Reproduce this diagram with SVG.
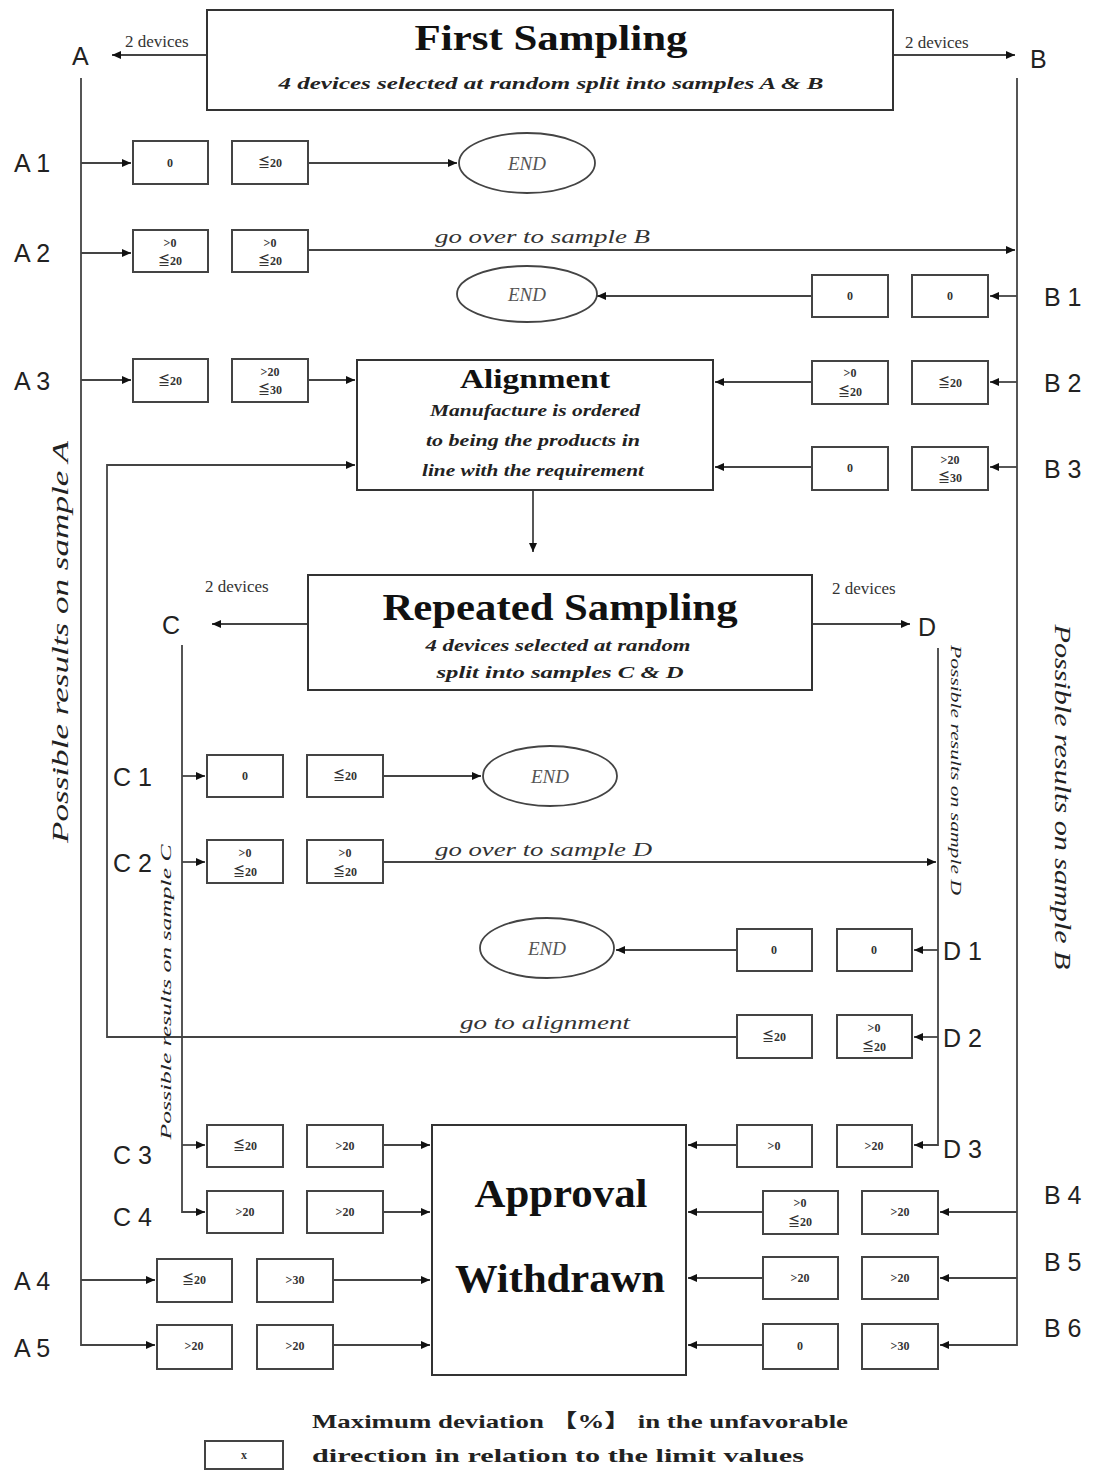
<svg xmlns="http://www.w3.org/2000/svg" width="1097" height="1472" viewBox="0 0 1097 1472">
<style>
.bg{fill:#fff}
.frame{fill:#fff;stroke:#333;stroke-width:2}
.bx{fill:#fff;stroke:#444;stroke-width:2}
.end{fill:#fff;stroke:#444;stroke-width:1.8}
.ln{fill:none;stroke:#444;stroke-width:1.8}
.v{font-family:"Liberation Serif","DejaVu Serif","Noto Sans CJK JP",serif;font-size:12px;font-weight:bold;fill:#333;text-anchor:middle}
.lab{font-family:"Liberation Sans","DejaVu Sans",sans-serif;font-size:25px;fill:#222}
.ttl{font-family:"Liberation Serif",serif;font-weight:bold;fill:#111;text-anchor:middle}
.sub{font-family:"Liberation Serif",serif;font-style:italic;font-weight:bold;font-size:16px;fill:#222;text-anchor:middle}
.it{font-family:"Liberation Serif",serif;font-style:italic;font-size:19px;fill:#333}
.dev{font-family:"Liberation Serif",serif;font-size:17px;fill:#333}
.endt{font-family:"Liberation Serif",serif;font-style:italic;font-size:19px;fill:#555;text-anchor:middle}
.vt{font-family:"Liberation Serif",serif;font-style:italic;font-size:23px;fill:#222;text-anchor:middle}
.vts{font-family:"Liberation Serif",serif;font-style:italic;font-size:15px;fill:#222;text-anchor:middle}
.leg{font-family:"Liberation Serif","Noto Sans CJK JP",serif;font-weight:bold;font-size:19px;fill:#222}
</style>
<defs>
<marker id="ah" markerWidth="9" markerHeight="8" refX="9" refY="4" orient="auto" markerUnits="userSpaceOnUse">
<path d="M0,0 L9,4 L0,8 z" fill="#111"/>
</marker>
</defs>
<rect class="bg" x="0" y="0" width="1097" height="1472"/>

<g id="connectors" class="ln" marker-end="url(#ah)">
<path d="M207,55 H112"/>
<path d="M893,55 H1015"/>
<path d="M81,78 V1345 H155"/>
<path d="M1017,78 V1345 H940"/>
<path d="M81,163 H131"/>
<path d="M308,163 H457"/>
<path d="M81,253 H131"/>
<path d="M308,250 H1015"/>
<path d="M1017,296 H990"/>
<path d="M812,296 H597"/>
<path d="M81,380 H131"/>
<path d="M308,380 H355"/>
<path d="M1017,382 H990"/>
<path d="M812,382 H715"/>
<path d="M1017,467 H990"/>
<path d="M812,467 H715"/>
<path d="M533,490 V552"/>
<path d="M737,1037 H107 V465 H355"/>
<path d="M938,1037 H914"/>
<path d="M308,624 H212"/>
<path d="M812,624 H910"/>
<path d="M182,645 V1212 H205"/>
<path d="M938,648 V1145 H914"/>
<path d="M182,776 H205"/>
<path d="M383,776 H481"/>
<path d="M182,862 H205"/>
<path d="M383,862 H936"/>
<path d="M938,950 H914"/>
<path d="M737,950 H616"/>
<path d="M182,1145 H205"/>
<path d="M383,1145 H430"/>
<path d="M737,1145 H688"/>
<path d="M383,1212 H430"/>
<path d="M1017,1212 H940"/>
<path d="M763,1212 H688"/>
<path d="M81,1280 H155"/>
<path d="M333,1280 H430"/>
<path d="M1017,1278 H940"/>
<path d="M763,1278 H688"/>
<path d="M333,1345 H430"/>
<path d="M763,1345 H688"/>
</g>

<g id="first-sampling">
<rect class="frame" x="207" y="10" width="686" height="100"/>
<text class="ttl" x="551" y="50" font-size="36" textLength="273" lengthAdjust="spacingAndGlyphs">First Sampling</text>
<text class="sub" x="551" y="89" textLength="545" lengthAdjust="spacingAndGlyphs">4 devices selected at random split into samples A &amp; B</text>
</g>
<g id="split-AB-labels">
<text class="dev" x="125" y="47" font-size="15">2 devices</text>
<text class="dev" x="905" y="48" font-size="15">2 devices</text>
<text class="lab" x="72" y="65" font-size="23">A</text>
<text class="lab" x="1030" y="68" font-size="23">B</text>
</g>

<g id="side-labels">
<text class="vt" transform="translate(68,642) rotate(-90)" textLength="402" lengthAdjust="spacingAndGlyphs">Possible results on sample A</text>
<text class="vt" transform="translate(1055,797) rotate(90)" textLength="345" lengthAdjust="spacingAndGlyphs">Possible results on sample B</text>
<text class="vts" transform="translate(951,770) rotate(90)" textLength="250" lengthAdjust="spacingAndGlyphs">Possible results on sample D</text>
<text class="vts" transform="translate(171,992) rotate(-90)" textLength="295" lengthAdjust="spacingAndGlyphs">Possible results on sample C</text>
</g>

<g id="row-A1">
<text class="lab" x="14" y="172">A 1</text>
<rect class="bx" x="133" y="141" width="75" height="43"/><text class="v" x="170" y="167">0</text>
<rect class="bx" x="232" y="141" width="76" height="43"/><text class="v" x="270" y="167">≦20</text>
</g>
<g id="end-A1">
<ellipse class="end" cx="527" cy="163" rx="68" ry="30"/>
<text class="endt" x="527" y="170">END</text>
</g>

<g id="row-A2">
<text class="lab" x="14" y="262">A 2</text>
<rect class="bx" x="133" y="230" width="75" height="42"/><text class="v" x="170" y="247">&gt;0</text><text class="v" x="170" y="265">≦20</text>
<rect class="bx" x="232" y="230" width="76" height="42"/><text class="v" x="270" y="247">&gt;0</text><text class="v" x="270" y="265">≦20</text>
<text class="it" x="435" y="243" textLength="215" lengthAdjust="spacingAndGlyphs">go over to sample B</text>
</g>

<g id="row-B1">
<text class="lab" x="1044" y="306">B 1</text>
<rect class="bx" x="812" y="275" width="76" height="42"/><text class="v" x="850" y="300">0</text>
<rect class="bx" x="912" y="275" width="76" height="42"/><text class="v" x="950" y="300">0</text>
</g>
<g id="end-B1">
<ellipse class="end" cx="527" cy="294" rx="70" ry="28"/>
<text class="endt" x="527" y="301">END</text>
</g>

<g id="row-A3">
<text class="lab" x="14" y="390">A 3</text>
<rect class="bx" x="133" y="359" width="75" height="43"/><text class="v" x="170" y="385">≦20</text>
<rect class="bx" x="232" y="359" width="76" height="43"/><text class="v" x="270" y="376">&gt;20</text><text class="v" x="270" y="394">≦30</text>
</g>

<g id="row-B2">
<text class="lab" x="1044" y="392">B 2</text>
<rect class="bx" x="812" y="361" width="76" height="43"/><text class="v" x="850" y="377">&gt;0</text><text class="v" x="850" y="396">≦20</text>
<rect class="bx" x="912" y="361" width="76" height="43"/><text class="v" x="950" y="387">≦20</text>
</g>

<g id="row-B3">
<text class="lab" x="1044" y="478">B 3</text>
<rect class="bx" x="812" y="447" width="76" height="43"/><text class="v" x="850" y="472">0</text>
<rect class="bx" x="912" y="447" width="76" height="43"/><text class="v" x="950" y="464">&gt;20</text><text class="v" x="950" y="482">≦30</text>
</g>

<g id="alignment">
<rect class="frame" x="357" y="360" width="356" height="130"/>
<text class="ttl" x="535" y="388" font-size="27" textLength="150" lengthAdjust="spacingAndGlyphs">Alignment</text>
<text class="sub" x="535" y="416" textLength="210" lengthAdjust="spacingAndGlyphs">Manufacture is ordered</text>
<text class="sub" x="533" y="446" textLength="214" lengthAdjust="spacingAndGlyphs">to being the products in</text>
<text class="sub" x="533" y="476" textLength="222" lengthAdjust="spacingAndGlyphs">line with the requirement</text>
</g>

<g id="repeated-sampling">
<rect class="frame" x="308" y="575" width="504" height="115"/>
<text class="ttl" x="560" y="620" font-size="37" textLength="355" lengthAdjust="spacingAndGlyphs">Repeated Sampling</text>
<text class="sub" x="558" y="651" textLength="265" lengthAdjust="spacingAndGlyphs">4 devices selected at random</text>
<text class="sub" x="560" y="678" textLength="247" lengthAdjust="spacingAndGlyphs">split into samples  C  &amp;  D</text>
</g>
<g id="split-CD-labels">
<text class="dev" x="205" y="592">2 devices</text>
<text class="dev" x="832" y="594">2 devices</text>
<text class="lab" x="162" y="634" font-size="23">C</text>
<text class="lab" x="918" y="636" font-size="23">D</text>
</g>

<g id="row-C1">
<text class="lab" x="113" y="786">C 1</text>
<rect class="bx" x="207" y="755" width="76" height="42"/><text class="v" x="245" y="780">0</text>
<rect class="bx" x="307" y="755" width="76" height="42"/><text class="v" x="345" y="780">≦20</text>
</g>
<g id="end-C1">
<ellipse class="end" cx="550" cy="776" rx="67" ry="30"/>
<text class="endt" x="550" y="783">END</text>
</g>

<g id="row-C2">
<text class="lab" x="113" y="872">C 2</text>
<rect class="bx" x="207" y="840" width="76" height="43"/><text class="v" x="245" y="857">&gt;0</text><text class="v" x="245" y="876">≦20</text>
<rect class="bx" x="307" y="840" width="76" height="43"/><text class="v" x="345" y="857">&gt;0</text><text class="v" x="345" y="876">≦20</text>
<text class="it" x="435" y="856" textLength="217" lengthAdjust="spacingAndGlyphs">go over to sample D</text>
</g>

<g id="row-D1">
<text class="lab" x="943" y="960">D 1</text>
<rect class="bx" x="737" y="929" width="75" height="42"/><text class="v" x="774" y="954">0</text>
<rect class="bx" x="837" y="929" width="75" height="42"/><text class="v" x="874" y="954">0</text>
</g>
<g id="end-D1">
<ellipse class="end" cx="547" cy="948" rx="67" ry="30"/>
<text class="endt" x="547" y="955">END</text>
</g>

<g id="row-D2">
<text class="lab" x="943" y="1047">D 2</text>
<rect class="bx" x="737" y="1015" width="75" height="43"/><text class="v" x="774" y="1041">≦20</text>
<rect class="bx" x="837" y="1015" width="75" height="43"/><text class="v" x="874" y="1032">&gt;0</text><text class="v" x="874" y="1051">≦20</text>
<text class="it" x="460" y="1029" textLength="170" lengthAdjust="spacingAndGlyphs">go to alignment</text>
</g>

<g id="row-C3">
<text class="lab" x="113" y="1164">C 3</text>
<rect class="bx" x="207" y="1125" width="76" height="42"/><text class="v" x="245" y="1150">≦20</text>
<rect class="bx" x="307" y="1125" width="76" height="42"/><text class="v" x="345" y="1150">&gt;20</text>
</g>

<g id="row-D3">
<text class="lab" x="943" y="1158">D 3</text>
<rect class="bx" x="737" y="1125" width="75" height="42"/><text class="v" x="774" y="1150">&gt;0</text>
<rect class="bx" x="837" y="1125" width="75" height="42"/><text class="v" x="874" y="1150">&gt;20</text>
</g>

<g id="approval-withdrawn">
<rect class="frame" x="432" y="1125" width="254" height="250"/>
<text class="ttl" x="561" y="1207" font-size="40" textLength="173" lengthAdjust="spacingAndGlyphs">Approval</text>
<text class="ttl" x="560" y="1292" font-size="40" textLength="210" lengthAdjust="spacingAndGlyphs">Withdrawn</text>
</g>

<g id="row-C4">
<text class="lab" x="113" y="1226">C 4</text>
<rect class="bx" x="207" y="1191" width="76" height="42"/><text class="v" x="245" y="1216">&gt;20</text>
<rect class="bx" x="307" y="1191" width="76" height="42"/><text class="v" x="345" y="1216">&gt;20</text>
</g>

<g id="row-B4">
<text class="lab" x="1044" y="1204">B 4</text>
<rect class="bx" x="763" y="1191" width="75" height="43"/><text class="v" x="800" y="1207">&gt;0</text><text class="v" x="800" y="1226">≦20</text>
<rect class="bx" x="862" y="1191" width="76" height="43"/><text class="v" x="900" y="1216">&gt;20</text>
</g>

<g id="row-A4">
<text class="lab" x="14" y="1290">A 4</text>
<rect class="bx" x="157" y="1259" width="75" height="43"/><text class="v" x="194" y="1284">≦20</text>
<rect class="bx" x="257" y="1259" width="76" height="43"/><text class="v" x="295" y="1284">&gt;30</text>
</g>

<g id="row-B5">
<text class="lab" x="1044" y="1271">B 5</text>
<rect class="bx" x="763" y="1257" width="75" height="42"/><text class="v" x="800" y="1282">&gt;20</text>
<rect class="bx" x="862" y="1257" width="76" height="42"/><text class="v" x="900" y="1282">&gt;20</text>
</g>

<g id="row-A5">
<text class="lab" x="14" y="1357">A 5</text>
<rect class="bx" x="157" y="1325" width="75" height="44"/><text class="v" x="194" y="1350">&gt;20</text>
<rect class="bx" x="257" y="1325" width="76" height="44"/><text class="v" x="295" y="1350">&gt;20</text>
</g>

<g id="row-B6">
<text class="lab" x="1044" y="1337">B 6</text>
<rect class="bx" x="763" y="1324" width="75" height="45"/><text class="v" x="800" y="1350">0</text>
<rect class="bx" x="862" y="1324" width="76" height="45"/><text class="v" x="900" y="1350">&gt;30</text>
</g>

<g id="legend">
<rect class="bx" x="205" y="1441" width="78" height="28"/><text class="v" x="244" y="1459">x</text>
<text class="leg" x="312" y="1428" textLength="536" lengthAdjust="spacingAndGlyphs">Maximum deviation  【%】  in the unfavorable</text>
<text class="leg" x="312" y="1462" textLength="492" lengthAdjust="spacingAndGlyphs">direction in relation to the limit values</text>
</g>
</svg>
